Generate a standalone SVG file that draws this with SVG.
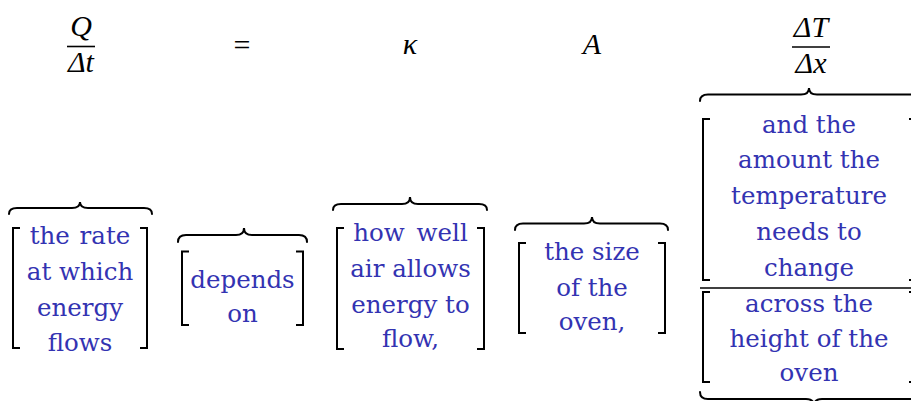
<svg xmlns="http://www.w3.org/2000/svg" width="911" height="401" viewBox="0 0 911 401">
<style>
.m{font-family:"Liberation Serif","DejaVu Serif",serif;font-style:italic;font-size:30px;fill:#000;text-anchor:middle}
.mr{font-family:"Liberation Serif","DejaVu Serif",serif;font-size:30px;fill:#000;text-anchor:middle}
.t{font-family:"DejaVu Serif","Liberation Serif",serif;font-size:24.5px;fill:#3333b2;text-anchor:middle}
.br{fill:none;stroke:#000;stroke-width:2}
.bc{fill:none;stroke:#000;stroke-width:2;stroke-linecap:round}
.bar{stroke:#000;stroke-width:1.6}
</style>
<rect width="911" height="401" fill="#fff"/>
<g id="equation">
  <g id="q-over-dt">
    <text class="m" x="81" y="36">Q</text>
    <line class="bar" x1="67" y1="46.5" x2="95" y2="46.5"/>
    <text class="m" x="81" y="72">Δt</text>
  </g>
  <text id="equals" class="mr" x="242" y="55">=</text>
  <text id="kappa" class="m" x="410" y="54">κ</text>
  <text id="area" class="m" x="592" y="54">A</text>
  <g id="dT-over-dx">
    <text class="m" x="811" y="37">ΔT</text>
    <line class="bar" x1="792" y1="47" x2="830" y2="47"/>
    <text class="m" x="811" y="73">Δx</text>
  </g>
</g>
<g id="braces">
  <path class="bc" d="M9 214 Q9 208 17 208 L72 208 Q80 208 80 202 Q80 208 88 208 L144 208 Q152 208 152 214"/>
  <path class="bc" d="M178 242 Q178 235 186 235 L236 235 Q244 235 244 228 Q244 235 252 235 L299 235 Q307 235 307 242"/>
  <path class="bc" d="M333 210 Q333 204 341 204 L402 204 Q410 204 410 197 Q410 204 418 204 L479 204 Q487 204 487 210"/>
  <path class="bc" d="M515 230 Q515 223.5 523 223.5 L584 223.5 Q592 223.5 592 217 Q592 223.5 600 223.5 L660 223.5 Q668 223.5 668 230"/>
  <path class="bc" d="M700 101 Q700 94.5 708 94.5 L801 94.5 Q809 94.5 809 88 Q809 94.5 817 94.5 L911 94.5 Q919 94.5 919 101"/>
  <path class="bc" d="M700 392 Q700 399 708 399 L806 399 Q814 399 814 406 Q814 399 822 399 L920 399 Q928 399 928 392"/>
</g>
<g id="node-rate">
  <path class="br" d="M20 228 H13 V348 H20"/>
  <path class="br" d="M140 228 H147 V348 H140"/>
  <text class="t" x="80" y="244" word-spacing="2">the rate</text>
  <text class="t" x="80" y="280">at which</text>
  <text class="t" x="80" y="316">energy</text>
  <text class="t" x="80" y="351">flows</text>
</g>
<g id="node-depends">
  <path class="br" d="M189 251.5 H182 V325 H189"/>
  <path class="br" d="M296 251.5 H303 V325 H296"/>
  <text class="t" x="242.5" y="288">depends</text>
  <text class="t" x="242.5" y="322">on</text>
</g>
<g id="node-kappa">
  <path class="br" d="M344 228 H337 V349 H344"/>
  <path class="br" d="M477 228 H484 V349 H477"/>
  <text class="t" x="410.5" y="241" word-spacing="4">how well</text>
  <text class="t" x="410.5" y="277">air allows</text>
  <text class="t" x="410.5" y="313">energy to</text>
  <text class="t" x="410.5" y="347">flow,</text>
</g>
<g id="node-area">
  <path class="br" d="M526 243 H519 V333 H526"/>
  <path class="br" d="M658 243 H665 V333 H658"/>
  <text class="t" x="592" y="260">the size</text>
  <text class="t" x="592" y="296">of the</text>
  <text class="t" x="592" y="330">oven,</text>
</g>
<g id="node-gradient">
  <path class="br" d="M710 119 H703 V280 H710"/>
  <path class="br" d="M909 119 H916 V280 H909"/>
  <text class="t" x="809" y="133">and the</text>
  <text class="t" x="809" y="168">amount the</text>
  <text class="t" x="809" y="204">temperature</text>
  <text class="t" x="809" y="240">needs to</text>
  <text class="t" x="809" y="276">change</text>
  <line class="bar" x1="700" y1="288" x2="920" y2="288"/>
  <path class="br" d="M710 292 H703 V382 H710"/>
  <path class="br" d="M909 292 H916 V382 H909"/>
  <text class="t" x="809" y="312">across the</text>
  <text class="t" x="809" y="347">height of the</text>
  <text class="t" x="809" y="381">oven</text>
</g>
</svg>
